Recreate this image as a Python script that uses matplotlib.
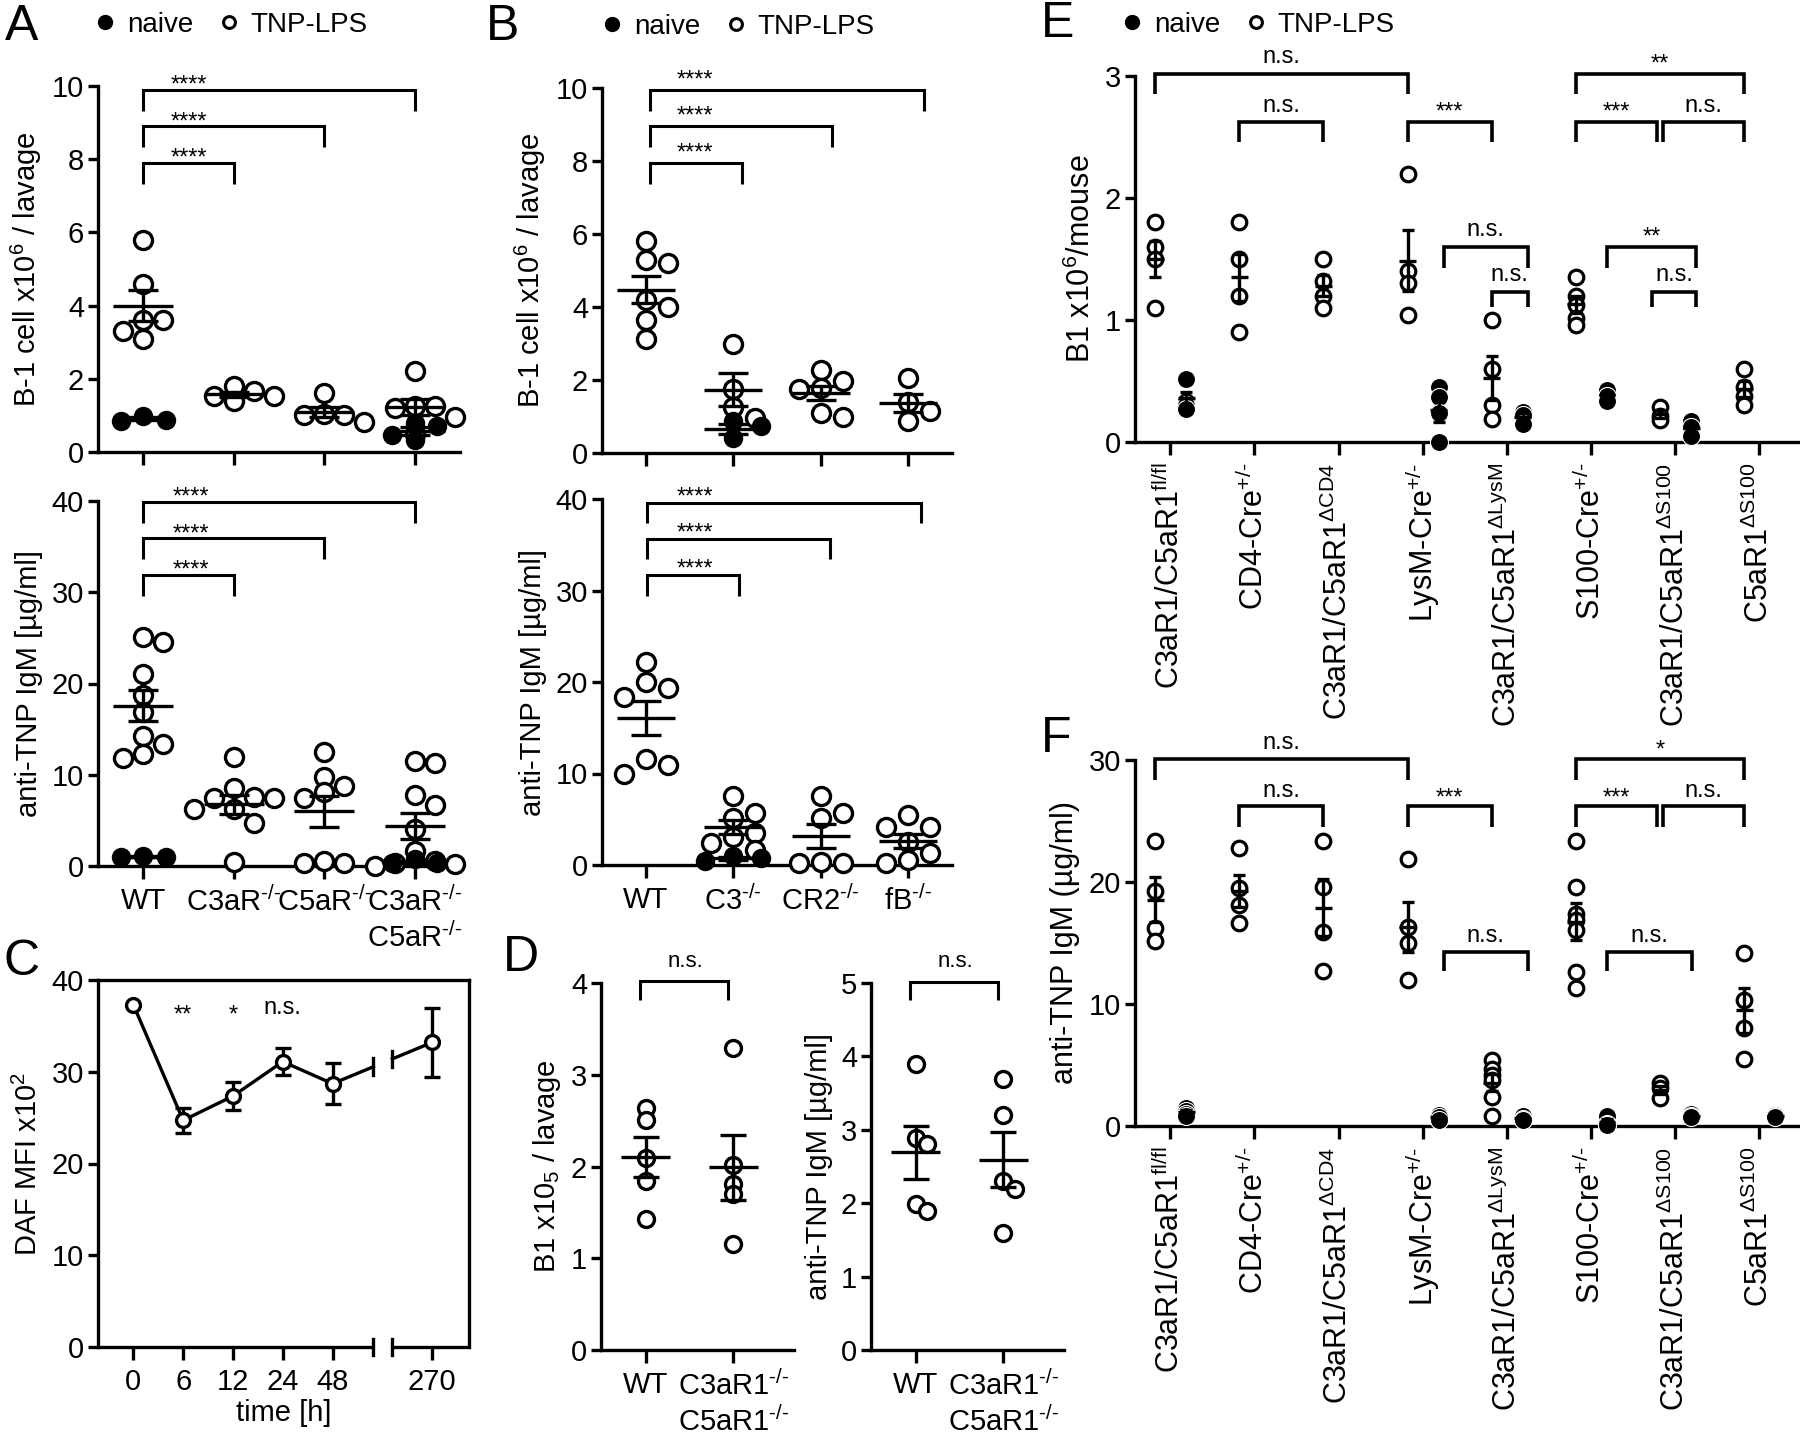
import numpy as np
import matplotlib
matplotlib.use("Agg")
import matplotlib.pyplot as plt
from matplotlib import font_manager
from matplotlib.lines import Line2D
from matplotlib.mathtext import MathTextParser

plt.rcParams["font.family"] = ["Liberation Sans", "DejaVu Sans"]
plt.rcParams["mathtext.fontset"] = "custom"
plt.rcParams["mathtext.rm"] = "Liberation Sans"
plt.rcParams["mathtext.it"] = "Liberation Sans"
plt.rcParams["mathtext.default"] = "regular"
plt.rcParams["axes.linewidth"] = 2.4

_names = {f.name for f in font_manager.fontManager.ttflist}
NARROW = ["Liberation Sans Narrow", "Liberation Sans"] if "Liberation Sans Narrow" in _names else ["Liberation Sans"]

# a short hyphen in superscripts instead of the wide math minus, if mathtext allows it
try:
    MathTextParser("path").parse(r"$^{\text{-}/\text{-}}$")
    KO = r"$^{\text{-}/\text{-}}$"
    HET = r"$^{+/\text{-}}$"
except Exception:
    KO = r"$^{-/-}$"
    HET = r"$^{+/-}$"

# ---------------- data ----------------
# A: WT vs receptor knock-outs
ab_groups = ["WT", "C3aR" + KO, "C5aR" + KO, "C3aR" + KO + "\nC5aR" + KO]
a_cells_lps = [[5.8, 4.6, 3.6, 3.6, 3.3, 3.1], [1.8, 1.66, 1.54, 1.52, 1.39],
               [1.6, 1.05, 1.02, 1.0, 0.82], [2.2, 1.25, 1.25, 1.2, 0.95, 0.5]]
a_cells_naive = [[0.99, 0.88, 0.86], [], [], [0.79, 0.7, 0.47, 0.34]]
a_igm_lps = [[25.1, 24.6, 21.0, 18.7, 16.9, 14.2, 13.4, 12.3, 11.8],
             [12.0, 8.6, 7.6, 7.5, 7.4, 6.3, 6.3, 4.7, 0.4],
             [12.5, 9.8, 8.8, 8.1, 7.5, 0.5, 0.3, 0.3],
             [11.5, 11.3, 7.8, 6.7, 4.1, 1.6, 0.5, 0.3, 0.2, 0.0]]
a_igm_naive = [[1.1, 1.0, 0.95], [], [], [0.75, 0.3, 0.3]]
a_sig = ["****", "****", "****"]

# B: complement component knock-outs
b_groups = ["WT", "C3" + KO, "CR2" + KO, "fB" + KO]
b_cells_lps = [[5.8, 5.3, 5.2, 4.2, 4.0, 3.65, 3.12], [3.0, 1.75, 1.25, 0.95],
               [2.28, 1.96, 1.78, 1.75, 1.1, 1.0], [2.05, 1.4, 1.14, 0.87]]
b_cells_naive = [[], [0.87, 0.73, 0.41], [], []]
b_igm_lps = [[22.2, 19.96, 19.3, 18.4, 11.6, 10.95, 10.0],
             [7.5, 5.7, 5.1, 3.5, 3.1, 2.4, 1.6],
             [7.5, 5.65, 5.1, 0.36, 0.2, 0.2],
             [5.5, 4.2, 4.2, 2.55, 1.3, 0.55, 0.2]]
b_igm_naive = [[], [1.0, 0.73, 0.44], [], []]
b_sig = ["****", "****", "****"]

# C: DAF MFI time course
c_labels = ["0", "6", "12", "24", "48", "270"]
c_mean = [37.3, 24.7, 27.35, 31.1, 28.7, 33.2]
c_sem = [0.0, 1.4, 1.5, 1.5, 2.2, 3.75]
c_sig = ["", "**", "*", "n.s.", "", ""]

# D: double knock-out
d_groups = ["WT", "C3aR1" + KO + "\nC5aR1" + KO]
d_cells = [[2.64, 2.51, 2.09, 1.84, 1.43], [3.29, 2.02, 1.81, 1.70, 1.15]]
d_igm = [[3.89, 2.89, 2.80, 1.99, 1.89], [3.69, 3.20, 2.30, 2.19, 1.59]]
d_sig = ["n.s.", "n.s."]

# E / F: conditional knock-outs
ef_groups = ["C3aR1/C5aR1$^{fl/fl}$", "CD4-Cre" + HET, "C3aR1/C5aR1$^{\\Delta CD4}$",
             "LysM-Cre" + HET, "C3aR1/C5aR1$^{\\Delta LysM}$", "S100-Cre" + HET,
             "C3aR1/C5aR1$^{\\Delta S100}$", "C5aR1$^{\\Delta S100}$"]
e_lps = [[1.8, 1.6, 1.5, 1.1], [1.8, 1.5, 1.2, 0.9], [1.5, 1.32, 1.2, 1.1],
         [2.2, 1.4, 1.3, 1.04], [1.0, 0.6, 0.3, 0.19], [1.35, 1.2, 1.12, 1.02, 0.96],
         [0.29, 0.21, 0.18], [0.6, 0.45, 0.38, 0.3]]
e_naive = [[0.52, 0.34, 0.30, 0.27], [], [], [0.45, 0.37, 0.24, 0.0],
           [0.25, 0.22, 0.15], [0.43, 0.38, 0.34], [0.17, 0.12, 0.05], []]
e_sig = ["n.s.", "n.s.", "***", "**", "***", "n.s.", "n.s.", "n.s.", "**", "n.s."]
f_lps = [[23.4, 19.3, 16.2, 15.2], [22.8, 19.5, 18.1, 16.6], [23.4, 19.6, 15.9, 12.7],
         [21.9, 16.3, 15.0, 12.0], [5.4, 4.7, 4.2, 3.8, 2.4, 0.8],
         [23.4, 19.6, 17.4, 16.9, 16.1, 12.6, 11.3], [3.5, 3.1, 2.3], [14.2, 10.3, 8.0, 5.5]]
f_naive = [[1.5, 1.2, 1.0, 0.8], [], [], [0.9, 0.7, 0.5], [0.8, 0.6, 0.5],
           [0.8, 0.2, 0.1], [1.0, 0.8, 0.7], [0.9, 0.8, 0.7]]
f_sig = ["n.s.", "n.s.", "***", "*", "***", "n.s.", "n.s.", "n.s."]

# ---------------- helpers ----------------
W, H = 1800, 1436
fig = plt.figure(figsize=(W / 100, H / 100), dpi=100)
TICK_FS = 21
LAB_FS = 21


def box(x0, y0, x1, y1):
    return fig.add_axes([x0 / W, 1 - y1 / H, (x1 - x0) / W, (y1 - y0) / H])


def setup(ax, xlim, ylim, yticks, xticks, xlabels, ylabel, tick_fs=TICK_FS):
    ax.set_xlim(*xlim)
    ax.set_ylim(*ylim)
    for s in ("top", "right"):
        ax.spines[s].set_visible(False)
    ax.set_yticks(yticks)
    ax.set_xticks(xticks)
    ax.set_xticklabels(xlabels if xlabels else [])
    ax.tick_params(axis="both", direction="out", width=2.4, labelsize=tick_fs)
    ax.tick_params(axis="y", length=7, pad=3)
    ax.tick_params(axis="x", length=9, pad=6)
    ax.set_ylabel(ylabel, fontsize=LAB_FS, labelpad=6)


def px_scale(ax):
    pos = ax.get_position()
    x0, x1 = ax.get_xlim()
    y0, y1 = ax.get_ylim()
    return pos.width * W / (x1 - x0), pos.height * H / (y1 - y0)


def swarm(ax, vals, step, diam):
    sx, sy = px_scale(ax)
    placed, offs = [], []
    for v in vals:
        for k in (0, 1, -1, 2, -2, 3, -3):
            dx = k * step
            if all(np.hypot((dx - px) * sx, (v - py) * sy) >= diam for px, py in placed):
                break
        placed.append((dx, v))
        offs.append(dx)
    return np.array(offs)


def dots(ax, xc, vals, filled, ms, step=0.0, diam=0.0, white_edge=False, mew=2.4):
    if len(vals) == 0:
        return
    vals = np.asarray(vals, float)
    offs = swarm(ax, vals, step, diam) if step else np.zeros(len(vals))
    if filled:
        ax.plot(xc + offs, vals, "o", ls="none", ms=ms, mfc="k",
                mec="white" if white_edge else "k", mew=0.8 if white_edge else 0,
                clip_on=False, zorder=3)
    else:
        ax.plot(xc + offs, vals, "o", ls="none", ms=ms, mfc="white", mec="k",
                mew=mew, clip_on=False, zorder=3)


def mean_sem(ax, xc, vals, half, cap, lw=2.4):
    if len(vals) < 2:
        return
    v = np.asarray(vals, float)
    m = v.mean()
    s = v.std(ddof=1) / np.sqrt(len(v))
    ax.plot([xc - half, xc + half], [m, m], color="k", lw=lw, zorder=4,
            solid_capstyle="butt", clip_on=False)
    ax.errorbar(xc, m, yerr=s, fmt="none", ecolor="k", elinewidth=lw, capsize=cap,
                capthick=lw, zorder=4, clip_on=False)


def bracket(ax, x1, x2, y, leg, lw=2.2):
    ax.plot([x1, x1, x2, x2], [y - leg, y, y, y - leg], color="k", lw=lw,
            clip_on=False, solid_joinstyle="miter", solid_capstyle="butt")


def sig(ax, x, y, text, fs=17, family=None):
    # y is the visual centre of the label
    up = 0.58 if set(text) == {"*"} else 0.27
    ax.annotate(text, (x, y), xytext=(0, -up * fs), textcoords="offset points",
                ha="center", va="baseline", fontsize=fs, annotation_clip=False,
                family=family)


def legend_at(x_px, y_px):
    h = [Line2D([], [], ls="none", marker="o", ms=10, mfc="k", mec="k"),
         Line2D([], [], ls="none", marker="o", ms=8.5, mfc="white", mec="k", mew=2.2)]
    fig.legend(h, ["naive", "TNP-LPS"], loc="center left",
               bbox_to_anchor=(x_px / W, 1 - y_px / H), ncol=2, frameon=False,
               fontsize=20, handlelength=0.6, handletextpad=0.5, columnspacing=0.95,
               borderpad=0, borderaxespad=0)


def letter(x_px, y_px, s):
    fig.text(x_px / W, 1 - y_px / H, s, fontsize=36, ha="left", va="center")


STEP, DIAM = 0.22, 15

# ---------------- panel A ----------------
ax = box(98, 86, 460, 452)
setup(ax, (-0.5, 3.5), (0, 10), [0, 2, 4, 6, 8, 10], range(4), None,
      "B-1 cell x10$^{6}$ / lavage")
for i in range(4):
    dots(ax, i, a_cells_lps[i], False, 13, STEP, DIAM)
    dots(ax, i, a_cells_naive[i], True, 14, 0.25, DIAM)
    mean_sem(ax, i, a_cells_lps[i], 0.33, 11)
    mean_sem(ax, i, a_cells_naive[i], 0.33, 11)
for j, lab in enumerate(a_sig):
    yb = 7.9 + j
    bracket(ax, 0, j + 1, yb, 0.58)
    sig(ax, 0.5, yb + 0.32, lab)

ax = box(98, 501, 460, 866)
setup(ax, (-0.5, 3.5), (0, 40), [0, 10, 20, 30, 40], range(4), ab_groups,
      "anti-TNP IgM [µg/ml]")
for i in range(4):
    dots(ax, i, a_igm_lps[i], False, 13, STEP, DIAM)
    dots(ax, i, a_igm_naive[i], True, 14, 0.25, DIAM)
    mean_sem(ax, i, a_igm_lps[i], 0.33, 11)
    mean_sem(ax, i, a_igm_naive[i], 0.33, 11)
for j, lab in enumerate(a_sig):
    yb = 31.9 + 4 * j
    bracket(ax, 0, j + 1, yb, 2.3)
    sig(ax, 0.53, yb + 1.3, lab)

# ---------------- panel B ----------------
ax = box(602, 88, 952, 453)
setup(ax, (-0.5, 3.5), (0, 10), [0, 2, 4, 6, 8, 10], range(4), None,
      "B-1 cell x10$^{6}$ / lavage")
for i in range(4):
    dots(ax, i, b_cells_lps[i], False, 13, 0.25, DIAM + 2)
    dots(ax, i, b_cells_naive[i], True, 14, 0.32, DIAM)
    mean_sem(ax, i, b_cells_lps[i], 0.33, 11)
    mean_sem(ax, i, b_cells_naive[i], 0.33, 11)
for j, (lab, x2) in enumerate(zip(b_sig, [1.1, 2.13, 3.18])):
    yb = 7.95 + j
    bracket(ax, 0.05, x2, yb, 0.58)
    sig(ax, 0.56, yb + 0.47, lab)

ax = box(602, 499, 952, 865)
setup(ax, (-0.5, 3.5), (0, 40), [0, 10, 20, 30, 40], range(4), b_groups,
      "anti-TNP IgM [µg/ml]")
for i in range(4):
    dots(ax, i, b_igm_lps[i], False, 13, 0.25, DIAM + 2)
    dots(ax, i, b_igm_naive[i], True, 14, 0.32, DIAM)
    mean_sem(ax, i, b_igm_lps[i], 0.33, 11)
    mean_sem(ax, i, b_igm_naive[i], 0.33, 11)
for j, (lab, x2) in enumerate(zip(b_sig, [1.07, 2.1, 3.15])):
    yb = 31.7 + 3.95 * j
    bracket(ax, 0.01, x2, yb, 2.25)
    sig(ax, 0.56, yb + 1.4, lab)

# ---------------- panel C ----------------
ax = box(98, 980, 469, 1347)
c_pos = [0, 1, 2, 3, 4, 6]
xl = (-0.71, 6.74)
brk = (4.82, 5.2)
ax.set_xlim(*xl)
ax.set_ylim(0, 40)
ax.spines["bottom"].set_visible(False)
ax.set_yticks([0, 10, 20, 30, 40])
ax.set_xticks(c_pos)
ax.set_xticklabels(c_labels)
ax.tick_params(axis="both", direction="out", width=2.4, labelsize=TICK_FS)
ax.tick_params(axis="y", length=7, pad=3)
ax.tick_params(axis="x", length=9, pad=6)
ax.set_ylabel("DAF MFI x10$^{2}$", fontsize=LAB_FS, labelpad=6)
ax.set_xlabel("time [h]", fontsize=LAB_FS, labelpad=2)
y_lo = np.interp(brk[0], c_pos, c_mean)
y_hi = np.interp(brk[1], c_pos, c_mean)
ax.plot(c_pos[:5] + [brk[0]], c_mean[:5] + [y_lo], color="k", lw=2.4, zorder=2)
ax.plot([brk[1], c_pos[5]], [y_hi, c_mean[5]], color="k", lw=2.4, zorder=2)
for xb, yb in zip(brk, (y_lo, y_hi)):
    ax.plot([xb, xb], [yb - 0.9, yb + 0.9], color="k", lw=2.4)
    ax.plot([xb, xb], [-0.9, 0.9], color="k", lw=2.4, clip_on=False)
ax.plot([xl[0], brk[0]], [0, 0], color="k", lw=2.4, clip_on=False, solid_capstyle="butt")
ax.plot([brk[1], xl[1]], [0, 0], color="k", lw=2.4, clip_on=False, solid_capstyle="butt")
ax.errorbar(c_pos, c_mean, yerr=c_sem, fmt="o", ms=10, mfc="white", mec="k", mew=2.4,
            ecolor="k", elinewidth=2.4, capsize=5.5, capthick=2.4, zorder=4)
for p, lab in zip(c_pos, c_sig):
    if lab:
        sig(ax, p, 37.0, lab)

# ---------------- panel D ----------------
for (x0, x1), vals, ylim, ylab, lab, by, bl, ty in [
        ((601, 794), d_cells, 4, "B1 x10$_{5}$ / lavage", d_sig[0], 4.02, 0.2, 4.24),
        ((871, 1064), d_igm, 5, "anti-TNP IgM [µg/ml]", d_sig[1], 5.02, 0.25, 5.3)]:
    ax = box(x0, 983, x1, 1350)
    setup(ax, (-0.51, 1.69), (0, ylim), list(range(ylim + 1)), [0, 1], d_groups,
          ylab)
    for i in range(2):
        dots(ax, i, vals[i], False, 11.5, 0.13, 10)
        mean_sem(ax, i, vals[i], 0.28, 9.5)
    bracket(ax, -0.06, 0.94, by, bl)
    sig(ax, 0.45, ty, lab, fs=16)

# ---------------- panels E / F ----------------
o, n = -0.18, 0.19
e_br = [(0 + o, 3 + o, 3.02, 0.17), (1 + o, 2 + o, 2.62, 0.16), (3 + o, 4 + o, 2.62, 0.16),
        (5 + o, 7 + o, 3.02, 0.17), (5 + o, 6 + o - 0.03, 2.62, 0.16),
        (6 + o + 0.03, 7 + o, 2.62, 0.16), (3 + 0.25, 4 + 0.25, 1.60, 0.17),
        (4 + o, 4 + 0.25, 1.23, 0.12), (5 + n, 6 + 0.25, 1.60, 0.17),
        (6 - 0.27, 6 + 0.25, 1.23, 0.12)]
f_br = [(0 + o, 3 + o, 30.1, 1.7), (1 + o, 2 + o, 26.2, 1.7), (3 + o, 4 + o, 26.2, 1.7),
        (5 + o, 7 + o, 30.1, 1.7), (5 + o, 6 + o - 0.03, 26.2, 1.7),
        (6 + o + 0.03, 7 + o, 26.2, 1.7), (3 + 0.25, 4 + 0.25, 14.3, 1.6),
        (5 + n, 6 + 0.2, 14.3, 1.6)]

for (y0, y1), lps, naive, ylim, yt, ylab, brs, sigs, tup in [
        ((76, 442), e_lps, e_naive, 3, [0, 1, 2, 3], "B1 x10$^{6}$/mouse", e_br, e_sig, 0.14),
        ((760, 1126), f_lps, f_naive, 30, [0, 10, 20, 30], "anti-TNP IgM (µg/ml)", f_br,
         f_sig, 1.3)]:
    ax = box(1135, y0, 1798, y1)
    setup(ax, (-0.42, 7.46), (0, ylim), yt, range(8), ef_groups, ylab, tick_fs=22)
    ax.yaxis.label.set_fontsize(22)
    for t in ax.get_xticklabels():
        t.set_rotation(90)
    for t in ax.get_yticklabels():
        t.set_family(NARROW)
        t.set_fontsize(21)
    for i in range(8):
        dots(ax, i + o, lps[i], False, 10.5, mew=2.3)
        dots(ax, i + n, naive[i], True, 13, white_edge=True)
        mean_sem(ax, i + o, lps[i], 0.1, 4.5)
        mean_sem(ax, i + n, naive[i], 0.1, 4.5)
    for (x1, x2, yb, leg), lab in zip(brs, sigs):
        bracket(ax, x1, x2, yb, leg, lw=2.6)
        sig(ax, (x1 + x2) / 2, yb + tup, lab, fs=17, family=NARROW)

# ---------------- legends and panel letters ----------------
legend_at(97, 25)
legend_at(604, 27)
legend_at(1124, 25)
letter(5, 27, "A")
letter(486, 27, "B")
letter(3, 962, "C")
letter(503, 958, "D")
letter(1041, 24, "E")
letter(1041, 739, "F")

fig.savefig("out.png", dpi=100)
